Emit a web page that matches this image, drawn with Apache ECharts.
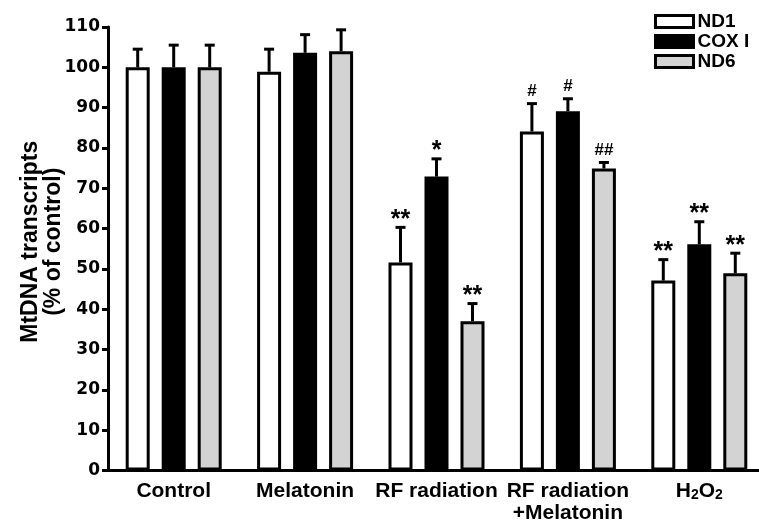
<!DOCTYPE html>
<html>
<head>
<meta charset="utf-8">
<script src="https://cdn.jsdelivr.net/npm/echarts@6/dist/echarts.min.js"></script>
<style>html,body{margin:0;padding:0;background:#fff}#c{width:759px;height:521px}</style>
</head>
<body>
<div id="c"></div>
<script>
const categories = ['Control', 'Melatonin', 'RF radiation', 'RF radiation\n+Melatonin', 'H₂O₂'];
const seriesNames = ['ND1', 'COX I', 'ND6'];
const nd1 = [100, 98.9, 51.6, 84.1, 47.1];
const nd1Err = [4.5, 5.6, 8.7, 6.9, 5.2];
const nd1Sig = ['', '', '**', '#', '**'];
const cox = [100, 103.6, 72.9, 89.1, 56.1];
const coxErr = [5.5, 4.5, 4.4, 3.1, 5.6];
const coxSig = ['', '', '*', '#', '**'];
const nd6 = [100, 104, 37.0, 74.9, 48.9];
const nd6Err = [5.5, 5.3, 4.4, 1.5, 5.0];
const nd6Sig = ['', '', '**', '##', '**'];
const yTicks = [0, 110, 10]; // min, max, interval

const FONT = 'Liberation Sans, Arial, sans-serif';
const TICK_FONT = 'DejaVu Sans, Liberation Sans, sans-serif';
const colors = ['#ffffff', '#000000', '#d3d3d3'];
const BAR_W = 24, BAR_GAP = 0.5;
const values = [nd1, cox, nd6];
const errs = [nd1Err, coxErr, nd6Err];
const sigs = [nd1Sig, coxSig, nd6Sig];

const chart = echarts.init(document.getElementById('c'), null, {renderer: 'canvas'});

const barSeries = seriesNames.map((name, i) => ({
  name: name,
  type: 'bar',
  data: values[i],
  barWidth: BAR_W,
  barGap: (BAR_GAP * 100) + '%',
  itemStyle: {color: colors[i], borderColor: '#000', borderWidth: 3},
  z: 2
}));

const errSeries = seriesNames.map((name, i) => ({
  type: 'custom',
  name: name + ' err',
  z: 3,
  data: values[i].map((v, k) => [k, v, v + errs[i][k]]),
  encode: {x: 0, y: [1, 2]},
  renderItem: function (params, api) {
    const k = api.value(0);
    const offset = (i - 1) * BAR_W * (1 + BAR_GAP);
    const base = api.coord([k, api.value(1)]);
    const top = api.coord([k, api.value(2)]);
    const x = base[0] + offset;
    const capHalf = 5;
    const children = [
      {type: 'line', shape: {x1: x, y1: base[1], x2: x, y2: top[1]}, style: {stroke: '#000', lineWidth: 3}},
      {type: 'line', shape: {x1: x - capHalf, y1: top[1], x2: x + capHalf, y2: top[1]}, style: {stroke: '#000', lineWidth: 3}}
    ];
    const s = sigs[i][k];
    if (s) {
      const isStar = s.indexOf('*') >= 0;
      children.push({
        type: 'text',
        style: {
          text: s, x: x, y: top[1] - (isStar ? -5 : 4),
          textAlign: 'center', textVerticalAlign: 'bottom',
          font: 'bold ' + (isStar ? 25 : 17) + 'px ' + FONT,
          fill: '#000'
        }
      });
    }
    return {type: 'group', children: children};
  },
  silent: true,
  tooltip: {show: false}
}));

chart.setOption({
  animation: false,
  backgroundColor: '#fff',
  grid: {left: 108, right: -6, top: 27, bottom: 50.5, containLabel: false, outerBoundsMode: 'none'},
  legend: {
    data: seriesNames,
    orient: 'vertical',
    left: 654, top: 12, padding: 0,
    itemWidth: 38, itemHeight: 12, itemGap: 1,
    icon: 'rect',
    itemStyle: {borderColor: '#000', borderWidth: 3},
    textStyle: {fontFamily: FONT, fontWeight: 'bold', fontSize: 19, color: '#000', padding: [0, 0, 0, -1]}
  },
  xAxis: {
    type: 'category',
    data: categories,
    axisLine: {lineStyle: {color: '#000', width: 3}},
    axisTick: {alignWithLabel: true, length: 7, lineStyle: {color: '#000', width: 3}},
    axisLabel: {
      interval: 0, hideOverlap: false,
      margin: 10, color: '#000', fontFamily: FONT, fontWeight: 'bold', fontSize: 21, lineHeight: 22,
      formatter: function (v) { return v.indexOf('₂') >= 0 ? v.replace(/₂/g, '{s|2}') : v; },
      rich: {s: {fontFamily: FONT, fontWeight: 'bold', fontSize: 14, verticalAlign: 'bottom', padding: [6, 0, 0, 0]}}
    }
  },
  yAxis: {
    type: 'value',
    min: yTicks[0], max: yTicks[1], interval: yTicks[2],
    name: 'MtDNA transcripts\n(% of control)',
    nameLocation: 'middle', nameGap: 43, nameRotate: 90, nameMoveOverlap: false,
    nameTextStyle: {fontFamily: FONT, fontWeight: 'bold', fontSize: 23, lineHeight: 23, color: '#000', padding: [0, 0, 0, 14]},
    axisLine: {show: true, lineStyle: {color: '#000', width: 3}},
    axisTick: {show: true, length: 6, lineStyle: {color: '#000', width: 3}},
    axisLabel: {margin: 8, color: '#000', fontFamily: TICK_FONT, fontWeight: 'bold', fontSize: 17},
    splitLine: {show: false}
  },
  series: barSeries.concat(errSeries)
});
</script>
</body>
</html>
